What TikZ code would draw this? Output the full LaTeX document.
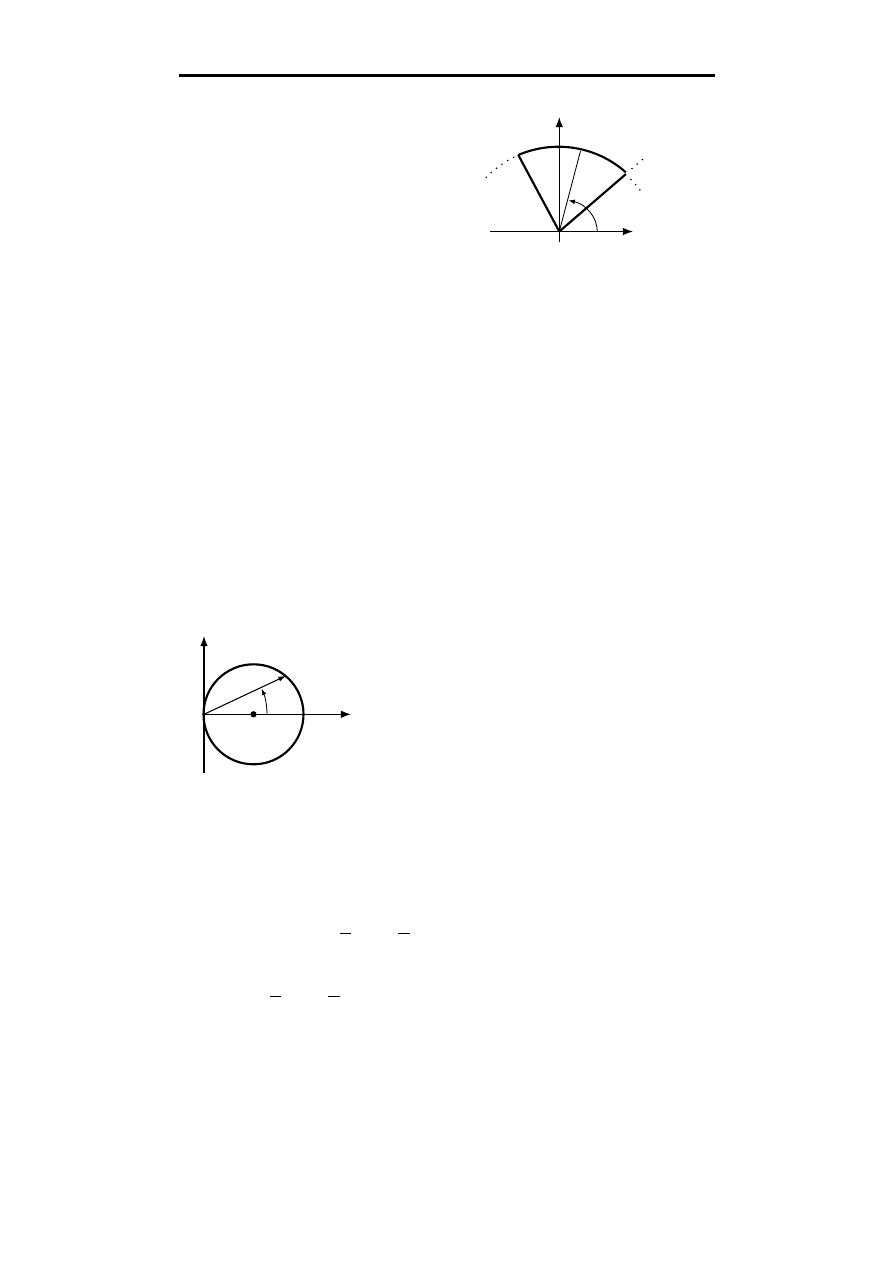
\documentclass[tikz,border=0pt]{standalone}
\usetikzlibrary{arrows.meta}
\tikzset{
	axisarrow/.style={line width=0.3mm, -{Latex[length=2.4mm, width=1.8mm]}},
	anglearrow/.style={line width=0.2mm, -{Latex[length=1.5mm, width=1.1mm]}},
	dotline/.style={line width=0.4mm, line cap=round, dash pattern=on 0pt off 1.6mm}
}

\begin{document}
\begin{tikzpicture}[x=0.23516mm, y=-0.23516mm]
			%%%%% START %%%%%
			\useasboundingbox (0, 0) rectangle (893, 1263);
			
			\draw[line width=0.6mm] (179, 75.5) -- (715, 75.5);
			
			% sector
			\draw[axisarrow] (490, 231.5) -- (633, 231.5);
			\draw[axisarrow] (559.3, 242) -- (559.3, 117);
			\draw[line width=0.5mm, line join=round] (518.3, 155) -- (559.3, 231.5) -- (626, 174);
			\draw[line width=0.5mm] (518.3, 155) arc (-113.3:-48.4:101.5);
			\draw[line width=0.2mm] (559.3, 231.5) -- (580.5, 151);
			\draw[anglearrow] (597.3, 231.5) arc[start angle=0, end angle=-76, x radius=38, y radius=32];
			
			\draw[dotline] (513.7, 157.3) arc (-116.5:-137:101.5);
			\draw[dotline] (631, 179.5) arc (-44.5:-33:101.5);
			\draw[dotline] (632, 168.5) -- (643, 159);
			
			% circle
			\draw[axisarrow] (204, 773) -- (204, 636);
			\draw[axisarrow] (204, 714.3) -- (351, 714.3);
			\draw[line width=0.5mm] (253.5, 714.3) circle (50);
			\draw[fill=black] (253.5, 714.3) circle (2.8);
			\draw[line width=0.25mm, -{Latex[length=1.8mm, width=1.2mm]}] (204, 714.3) -- (286, 675.8);
			\draw[anglearrow] (267, 714.3) arc (0:-24:63);
			
			% bars
			\draw[line width=0.35mm] (340, 933.3) -- (350.7, 933.3);
			\draw[line width=0.35mm] (398.3, 933.3) -- (410, 933.3);
			\draw[line width=0.35mm] (270, 996.7) -- (281, 996.7);
			\draw[line width=0.35mm] (328.3, 996.7) -- (340, 996.7);
			
			%%%%% END %%%%%
\end{tikzpicture}
\end{document}
